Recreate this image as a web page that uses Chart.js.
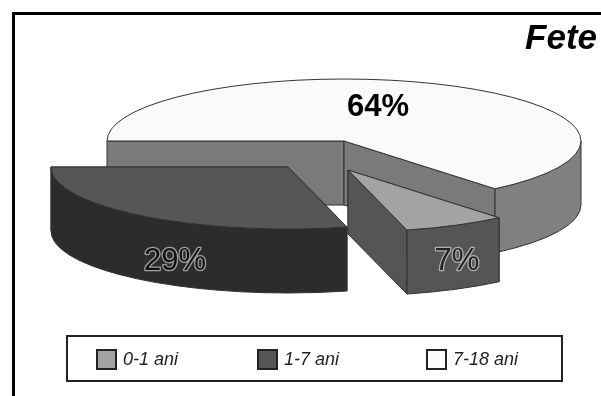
<!DOCTYPE html>
<html lang="ro">
<head>
    <meta charset="UTF-8">
    <title>Fete</title>
    <script src="https://cdn.jsdelivr.net/npm/chart.js"></script>
    <style>
        html, body {
            margin: 0;
            background: #fff;
            overflow: hidden;
        }
        #wrap {
            position: relative;
            width: 601px;
            height: 396px;
        }
        /* black frame, open on the right and at the bottom */
        #frame {
            position: absolute;
            left: 12px;
            top: 12px;
            right: 0;
            bottom: 0;
            border-left: 3px solid #000;
            border-top: 3px solid #000;
        }
        canvas {
            position: absolute;
            left: 0;
            top: 0;
        }
    </style>
</head>
<body>
    <div id="wrap">
        <div id="frame"></div>
        <canvas id="chartCanvas" width="601" height="396"></canvas>
    </div>

    <script>
        const chartTitle = "Fete";
        const categories = ["0-1 ani", "1-7 ani", "7-18 ani"];
        const percents = [7, 29, 64];

        const topColors = ["#a3a3a3", "#565656", "#fafafa"];
        const outerWallColors = ["#555555", "#2c2c2c", "#808080"];
        const cutWallColors = ["#555555", "#2c2c2c", "#7a7a7a"];
        const edgeColor = "#333333";

        // how far each slice is pulled out of the pie, in pixels
        const shiftX = [4, -56, 0];
        const shiftY = [29, 26, 0];

        // label centres relative to the moved slice centre
        const labelX = [109, -113, 34];
        const labelY = [91, 94, -34];
        const labelFill = ["#222222", "#111111", "#000000"];
        const labelHalo = ["#b0b0b0", "#a0a0a0", null];

        const tilt = 62 / 237;
        const depth = 64;
        const drawOrder = [2, 0, 1]; // back to front

        function wallPath(ctx, x, y, rx, ry, a0, a1) {
            ctx.beginPath();
            ctx.ellipse(x, y, rx, ry, 0, a0, a1);
            ctx.ellipse(x, y + depth, rx, ry, 0, a1, a0, true);
            ctx.closePath();
        }

        function cutWall(ctx, x, y, rx, ry, a, color) {
            const ex = x + rx * Math.cos(a);
            const ey = y + ry * Math.sin(a);
            ctx.beginPath();
            ctx.moveTo(x, y);
            ctx.lineTo(ex, ey);
            ctx.lineTo(ex, ey + depth);
            ctx.lineTo(x, y + depth);
            ctx.closePath();
            ctx.fillStyle = color;
            ctx.fill();
            ctx.stroke();
        }

        function drawSlice(ctx, arc, i) {
            const x = arc.x + shiftX[i];
            const y = arc.y + shiftY[i];
            const rx = arc.outerRadius;
            const ry = rx * tilt;
            const a0 = arc.startAngle;
            const a1 = arc.endAngle;

            ctx.strokeStyle = edgeColor;
            ctx.lineWidth = 1;
            ctx.lineJoin = "round";

            cutWall(ctx, x, y, rx, ry, a0, cutWallColors[i]);
            cutWall(ctx, x, y, rx, ry, a1, cutWallColors[i]);

            // only the part of the rim that faces the viewer: 0..180 deg, also after a full turn
            [0, 2 * Math.PI].forEach(turn => {
                const from = Math.max(a0, turn);
                const to = Math.min(a1, turn + Math.PI);
                if (to > from) {
                    wallPath(ctx, x, y, rx, ry, from, to);
                    ctx.fillStyle = outerWallColors[i];
                    ctx.fill();
                    ctx.stroke();
                }
            });

            ctx.beginPath();
            ctx.moveTo(x, y);
            ctx.ellipse(x, y, rx, ry, 0, a0, a1);
            ctx.closePath();
            ctx.fillStyle = topColors[i];
            ctx.fill();
            ctx.stroke();
        }

        function drawLabel(ctx, arc, i) {
            const text = percents[i] + "%";
            const x = arc.x + shiftX[i] + labelX[i];
            const y = arc.y + shiftY[i] + labelY[i];
            ctx.font = (labelHalo[i] ? "" : "bold ") + "31px 'Liberation Sans'";
            ctx.textAlign = "center";
            ctx.textBaseline = "middle";
            if (labelHalo[i]) {
                ctx.strokeStyle = labelHalo[i];
                ctx.lineWidth = 2.5;
                ctx.lineJoin = "round";
                ctx.strokeText(text, x, y);
            }
            ctx.fillStyle = labelFill[i];
            ctx.fillText(text, x, y);
        }

        const legendX = [97, 258, 427];

        function drawLegend(ctx) {
            ctx.strokeStyle = "#222222";
            ctx.lineWidth = 2;
            ctx.strokeRect(67, 336, 495, 45);
            ctx.font = "italic 18px 'Liberation Sans'";
            ctx.textAlign = "left";
            ctx.textBaseline = "middle";
            categories.forEach((name, i) => {
                ctx.fillStyle = topColors[i];
                ctx.fillRect(legendX[i], 350, 19, 19);
                ctx.strokeRect(legendX[i], 350, 19, 19);
                ctx.fillStyle = "#222222";
                ctx.fillText(name, legendX[i] + 26, 360);
            });
        }

        const pie3d = {
            id: "pie3d",
            // the flat arcs are replaced by the tilted solid slices
            beforeDatasetsDraw(chart) {
                const ctx = chart.ctx;
                const arcs = chart.getDatasetMeta(0).data;
                ctx.save();
                drawOrder.forEach(i => drawSlice(ctx, arcs[i], i));
                drawOrder.forEach(i => drawLabel(ctx, arcs[i], i));
                ctx.restore();
                return false;
            },
            afterDraw(chart) {
                const ctx = chart.ctx;
                ctx.save();
                ctx.font = "italic bold 35px 'Liberation Sans'";
                ctx.textAlign = "right";
                ctx.textBaseline = "alphabetic";
                ctx.fillStyle = "#000";
                ctx.fillText(chartTitle, 597, 49);
                drawLegend(ctx);
                ctx.restore();
            }
        };

        new Chart(document.getElementById("chartCanvas"), {
            type: "pie",
            data: {
                labels: categories,
                datasets: [{ data: percents, backgroundColor: topColors, radius: 237, rotation: 140.4 }]
            },
            options: {
                responsive: false,
                animation: false,
                // puts the pie centre at 344,141
                layout: { padding: { left: 87, right: 0, top: 0, bottom: 114 } },
                plugins: { legend: { display: false }, tooltip: { enabled: false } }
            },
            plugins: [pie3d]
        });
    </script>
</body>
</html>
